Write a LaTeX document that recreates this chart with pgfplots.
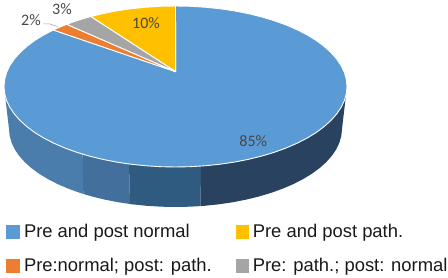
\documentclass[border=0pt]{standalone}
\usepackage{pgfplots}
\pgfplotsset{compat=1.18}
\usepackage{fontspec}
\setmainfont{Liberation Sans}
\newfontfamily\lab{Carlito}
\definecolor{cblue}{HTML}{5B9BD5}
\definecolor{corange}{HTML}{ED7D31}
\definecolor{cyellow}{HTML}{FFC000}
\definecolor{cgray}{HTML}{A5A5A5}
\definecolor{wa}{HTML}{4A7CAC}
\definecolor{wb}{HTML}{426F9B}
\definecolor{wc}{HTML}{305B80}
\definecolor{wd}{HTML}{29425F}
\begin{document}
\begin{tikzpicture}
\path[use as bounding box] (0,0) rectangle (448pt,278pt);
\begin{axis}[
  scale only axis, width=448pt, height=278pt,
  xmin=0, xmax=448, ymin=0, ymax=278,
  hide axis, clip=false,
  legend columns=2,
  legend cell align=left,
  legend image code/.code={\path[#1,draw=none] (0pt,-7pt) rectangle (13.5pt,7pt);},
  legend style={
    at={(axis cs:6,55.5)}, anchor=north west, draw=none, fill=none, inner sep=0pt, outer sep=0pt,
    font=\fontsize{18.4}{20}\selectfont,
    text=black!90,
    /tikz/column 1/.style={column sep=2.5pt},
    /tikz/column 2/.style={column sep=22pt},
    /tikz/column 3/.style={column sep=1.5pt},
    /tikz/row 1/.style={row sep=15pt},
  },
]
% side wall
\addplot[forget plot, fill=wa, draw=none] coordinates {
(4,191.5)(9,149)(9.65,142.2)(11.55,135.45)(14.7,128.8)(19.05,122.3)(24.6,116)(31.3,110)(39.1,104.25)(47.95,98.85)(57.75,93.85)(68.5,89.25)(80,85.1)(83.3,84.05)(82.7,123.8)(82.7,191.5)(4,191.5)};
\addplot[forget plot, fill=wb, draw=none] coordinates {
(82.7,191.5)(82.7,123.8)(83.3,84.05)(92.25,81.45)(105.15,78.3)(118.55,75.7)(130,74)(129,114)(129,191.5)(82.7,191.5)};
\addplot[forget plot, fill=wc, draw=none] coordinates {
(129,191.5)(129,114)(130,74)(132.4,73.65)(146.6,72.2)(161,71.3)(175.5,71)(190,71.3)(200.5,71.9)(201,111.9)(201,191.5)(129,191.5)};
\addplot[forget plot, fill=wd, draw=none] coordinates {
(201,191.5)(201,111.9)(200.5,71.9)(204.4,72.2)(218.6,73.65)(232.45,75.7)(245.85,78.3)(258.75,81.45)(271,85.1)(282.5,89.25)(293.25,93.85)(303.05,98.85)(311.9,104.25)(319.7,110)(326.4,116)(331.95,122.3)(336.3,128.8)(339.45,135.45)(341.35,142.2)(342,149)(347,191.5)(201,191.5)};
% top face
\addplot[fill=cblue, draw=white, line width=0.9pt, line join=round] coordinates {
(175.7,206.3)(175.5,272)(190.45,271.7)(205.3,270.75)(219.9,269.25)(234.15,267.15)(248,264.45)(261.25,261.2)(273.85,257.45)(285.75,253.15)(296.75,248.4)(306.9,243.25)(316,237.7)(324,231.75)(330.9,225.5)(336.65,219.05)(341.15,212.35)(344.4,205.5)(346.35,198.5)(347,191.5)
(346.35,184.5)(344.4,177.5)(341.15,170.65)(336.65,163.95)(330.9,157.5)(324,151.25)(316,145.3)(306.9,139.75)(296.75,134.6)(285.75,129.85)(273.85,125.55)(261.25,121.8)(248,118.55)(234.15,115.85)(219.9,113.75)(205.3,112.25)(190.45,111.3)(175.5,111)
(160.55,111.3)(145.7,112.25)(131.1,113.75)(116.85,115.85)(103,118.55)(89.75,121.8)(77.15,125.55)(65.25,129.85)(54.25,134.6)(44.1,139.75)(35,145.3)(27,151.25)(20.1,157.5)(14.35,163.95)(9.85,170.65)(6.6,177.5)(4.65,184.5)(4,191.5)
(4.65,198.5)(6.6,205.5)(9.85,212.35)(14.35,219.05)(20.1,225.5)(27,231.75)(35,237.7)(44.1,243.25)(53.3,248)(175.7,206.3)};
\addlegendentry{Pre and post normal}
\addplot[fill=cyellow, draw=white, line width=0.9pt, line join=round] coordinates {
(175.7,206.3)(175.5,272)(160.55,271.7)(145.7,270.75)(131.1,269.25)(116.85,267.15)(103,264.45)(90.7,261.45)(175.7,206.3)};
\addlegendentry{Pre and post path.}
\addplot[fill=corange, draw=white, line width=0.9pt, line join=round] coordinates {
(175.7,206.3)(66.7,253.7)(60,251)(53.3,248)(175.7,206.3)};
\addlegendentry{Pre:normal; post: path.}
\addplot[fill=cgray, draw=white, line width=0.9pt, line join=round] coordinates {
(175.7,206.3)(90.7,261.45)(77.15,257.45)(66.7,253.7)(175.7,206.3)};
\addlegendentry{Pre: path.; post: normal}
% leader line
\addplot[forget plot, draw=black!35, line width=0.5pt] coordinates {(43,254)(50,254)(58,251.3)};
% data labels
\node[font=\lab\fontsize{16}{18}\selectfont, text=black!72] at (axis cs:253.3,137.3) {85\%};
\node[font=\lab\fontsize{16}{18}\selectfont, text=black!72] at (axis cs:146,254.7) {10\%};
\node[font=\lab\fontsize{16}{18}\selectfont, text=black!72] at (axis cs:62,268.5) {3\%};
\node[font=\lab\fontsize{16}{18}\selectfont, text=black!72] at (axis cs:31,258) {2\%};
\end{axis}
\end{tikzpicture}
\end{document}
